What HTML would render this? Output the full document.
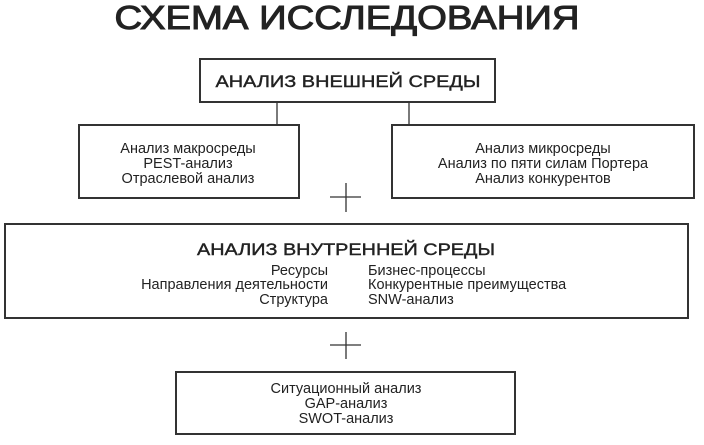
<!DOCTYPE html>
<html><head><meta charset="utf-8"><style>html,body{margin:0;padding:0;background:#fff}</style></head>
<body>
<svg width="704" height="440" xmlns="http://www.w3.org/2000/svg" font-family="Liberation Sans, DejaVu Sans, sans-serif" fill="#222">
<text x="347" y="29" font-size="33" text-anchor="middle" textLength="465" lengthAdjust="spacingAndGlyphs" stroke="#222" stroke-width="1">СХЕМА ИССЛЕДОВАНИЯ</text>
<g fill="none" stroke="#333" stroke-width="2">
<rect x="200" y="59" width="295" height="43"/>
<rect x="79" y="125" width="220" height="73"/>
<rect x="392" y="125" width="302" height="73"/>
<rect x="5" y="224" width="683" height="94"/>
<rect x="176" y="372" width="339" height="62"/>
</g>
<g stroke="#333" stroke-width="1.3">
<line x1="277" y1="102" x2="277" y2="125"/>
<line x1="409" y1="102" x2="409" y2="125"/>
<line x1="330" y1="197" x2="361" y2="197"/>
<line x1="346" y1="183" x2="346" y2="212"/>
<line x1="330" y1="345" x2="361" y2="345"/>
<line x1="346" y1="332" x2="346" y2="359"/>
</g>
<text x="348" y="87" font-size="17" text-anchor="middle" textLength="265" lengthAdjust="spacingAndGlyphs" stroke="#222" stroke-width="0.4">АНАЛИЗ ВНЕШНЕЙ СРЕДЫ</text>
<g font-size="14.5" text-anchor="middle">
<text x="188" y="153">Анализ макросреды</text>
<text x="188" y="168">PEST-анализ</text>
<text x="188" y="183">Отраслевой анализ</text>
<text x="543" y="153">Анализ микросреды</text>
<text x="543" y="168">Анализ по пяти силам Портера</text>
<text x="543" y="183">Анализ конкурентов</text>
<text x="346" y="393">Ситуационный анализ</text>
<text x="346" y="408">GAP-анализ</text>
<text x="346" y="423">SWOT-анализ</text>
</g>
<text x="346" y="255" font-size="17" text-anchor="middle" textLength="298" lengthAdjust="spacingAndGlyphs" stroke="#222" stroke-width="0.4">АНАЛИЗ ВНУТРЕННЕЙ СРЕДЫ</text>
<g font-size="14.5" text-anchor="end">
<text x="328" y="275">Ресурсы</text>
<text x="328" y="289">Направления деятельности</text>
<text x="328" y="304">Структура</text>
</g>
<g font-size="14.5">
<text x="368" y="275">Бизнес-процессы</text>
<text x="368" y="289">Конкурентные преимущества</text>
<text x="368" y="304">SNW-анализ</text>
</g>
</svg>
</body></html>
